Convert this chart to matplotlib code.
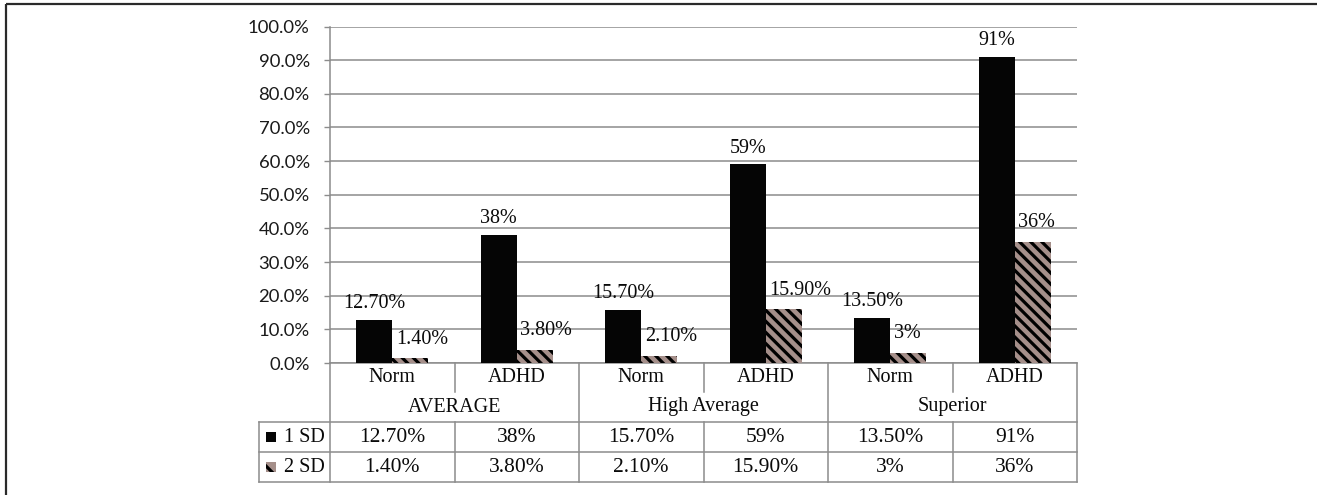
import matplotlib
matplotlib.use("Agg")
import matplotlib.pyplot as plt
from matplotlib.patches import Rectangle

# ---- data -------------------------------------------------------------
groups = ["AVERAGE", "High Average", "Superior"]
subgroups = ["Norm", "ADHD"]
series_names = ["1 SD", "2 SD"]
sd1_labels = ["12.70%", "38%", "15.70%", "59%", "13.50%", "91%"]
sd2_labels = ["1.40%", "3.80%", "2.10%", "15.90%", "3%", "36%"]
y_ticks = [0.0, 0.1, 0.2, 0.3, 0.4, 0.5, 0.6, 0.7, 0.8, 0.9, 1.0]

sd1_values = [float(s.rstrip("%")) / 100 for s in sd1_labels]
sd2_values = [float(s.rstrip("%")) / 100 for s in sd2_labels]

# ---- style ------------------------------------------------------------
W, H = 1317, 495
SERIF = "Liberation Serif"
SANS = "Lato"
GRID = "#8c8c8c"
BAR1 = "#050505"
BAR2_BG = "#a58f8a"
plt.rcParams["hatch.linewidth"] = 2.3
plt.rcParams["hatch.color"] = "black"

fig = plt.figure(figsize=(W / 100, H / 100), dpi=100)

# overlay in pixel units for the frame and the data table
ov = fig.add_axes([0, 0, 1, 1])
ov.set_xlim(0, W)
ov.set_ylim(H, 0)
ov.axis("off")

# outer frame (only left and top edges fall inside the canvas)
ov.add_patch(Rectangle((6, 4), W + 20, H + 20, fill=False,
                       edgecolor="#2a2a2a", linewidth=1.6))

# plot area geometry in pixels
x0, x1 = 330, 1077
y_top, y_zero = 26.5, 363
n_slots = len(sd1_values)
slot_w = (x1 - x0) / n_slots

ax = fig.add_axes([x0 / W, (H - y_zero) / H, (x1 - x0) / W,
                   (y_zero - y_top) / H])
ax.set_facecolor("none")
ax.set_xlim(-0.5, n_slots - 0.5)
ax.set_ylim(0, 1)

bw = 0.29
pos = list(range(n_slots))
ax.bar([p - bw / 2 for p in pos], sd1_values, width=bw, color=BAR1,
       linewidth=0, zorder=3)
ax.bar([p + bw / 2 for p in pos], sd2_values, width=bw, color=BAR2_BG,
       hatch="\\\\\\", linewidth=0, zorder=3)

# value labels
for p, v, s in zip(pos, sd1_values, sd1_labels):
    ax.annotate(s, (p - bw / 2, v), xytext=(0, 5), textcoords="offset points",
                ha="center", va="bottom", fontsize=14.5, family=SERIF,
                color="#0a0a0a", zorder=4)
for p, v, s in zip(pos, sd2_values, sd2_labels):
    ax.annotate(s, (p, v), xytext=(2.5, 7), textcoords="offset points",
                ha="left", va="bottom", fontsize=14.5, family=SERIF,
                color="#0a0a0a", zorder=4)

# axes styling
ax.set_yticks(y_ticks)
ax.set_yticklabels([f"{t * 100:.1f}%" for t in y_ticks], family=SANS,
                   fontsize=13.3, color="#1a1a1a")
ax.yaxis.grid(True, color=GRID, linewidth=1.1, zorder=0)
ax.set_xticks([])
ax.tick_params(axis="y", direction="out", length=4.5, width=1.0,
               color=GRID, pad=10)
for side in ("top", "right", "bottom"):
    ax.spines[side].set_visible(False)
ax.spines["left"].set_color(GRID)
ax.spines["left"].set_linewidth(1.1)

# ---- category axis and data table --------------------------------------
lc = dict(color=GRID, linewidth=1.1)
y_cat, y_tab, y_r1, y_r2 = 392, 422, 452, 482
x_leg = 259

ov.plot([x0, x1], [y_zero, y_zero], **lc)
for y in (y_tab, y_r1, y_r2):
    ov.plot([x_leg, x1], [y, y], **lc)
ov.plot([x_leg, x_leg], [y_tab, y_r2], **lc)
for k in range(n_slots + 1):
    xk = x0 + k * slot_w
    if k % 2 == 0:
        ov.plot([xk, xk], [y_zero, y_r2], **lc)
    else:
        ov.plot([xk, xk], [y_zero, y_cat], **lc)
        ov.plot([xk, xk], [y_tab, y_r2], **lc)

txt = dict(family=SERIF, color="#0a0a0a", ha="center", va="center")
for k in range(n_slots):
    xc = x0 + (k + 0.5) * slot_w
    ov.text(xc, 378, subgroups[k % 2], fontsize=14.5, **txt)
    ov.text(xc, y_tab + 15, sd1_labels[k], fontsize=15.5, **txt)
    ov.text(xc, y_r1 + 15, sd2_labels[k], fontsize=15.5, **txt)
for g, name in enumerate(groups):
    xc = x0 + (2 * g + 1) * slot_w
    ov.text(xc, 407, name, fontsize=14.5, **txt)

# legend keys inside the table
ov.add_patch(Rectangle((266, y_tab + 10), 10, 10, facecolor=BAR1,
                       linewidth=0))
ov.add_patch(Rectangle((266, y_r1 + 10), 10, 10, facecolor=BAR2_BG,
                       hatch="\\", linewidth=0))
ov.text(284, y_tab + 15, series_names[0], fontsize=14.5, family=SERIF,
        color="#0a0a0a", ha="left", va="center")
ov.text(284, y_r1 + 15, series_names[1], fontsize=14.5, family=SERIF,
        color="#0a0a0a", ha="left", va="center")

fig.savefig("out.png", dpi=100)
